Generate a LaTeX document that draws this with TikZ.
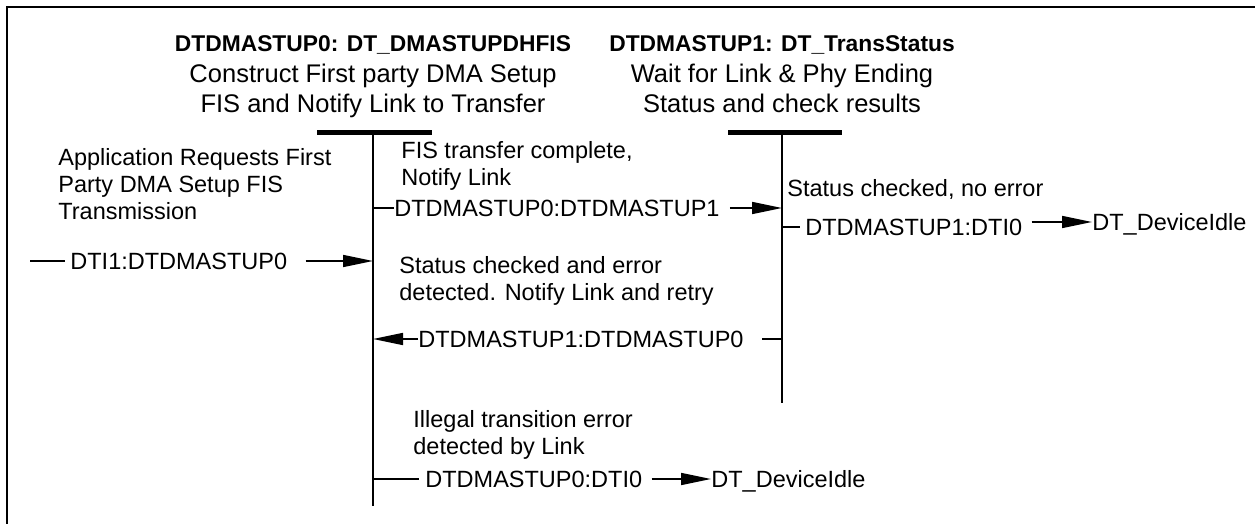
\documentclass[tikz,border=0pt]{standalone}
\usepackage{fontspec}
\setmainfont{Liberation Sans}
\usetikzlibrary{arrows.meta,positioning,calc}

\tikzset{
  stitle/.style={font=\fontsize{11.4}{15}\selectfont\bfseries, inner sep=0pt, anchor=base},
  sdesc/.style={font=\fontsize{12.75}{15}\selectfont, inner sep=0pt, align=center, anchor=base},
  note/.style={font=\fontsize{11.75}{13.5}\selectfont, inner sep=0pt, align=left, anchor=base west},
  tlabel/.style={font=\fontsize{11.75}{13.5}\selectfont, inner sep=0pt, text height=8.4pt, text depth=0pt, anchor=west},
  lifeline/.style={line width=1pt},
  statebar/.style={line width=2.5pt},
  trans/.style={line width=0.8pt, -{Triangle[length=15pt,width=6pt]}},
  tick/.style={line width=0.8pt},
}

\begin{document}
\begin{tikzpicture}[x=0.5pt,y=-0.5pt]
        \useasboundingbox (0,0) rectangle (1255,524);
        \draw[line width=1pt] (7,524) -- (7,7) -- (1255,7);
        % state DTDMASTUP0 (multi-line nodes sit on their last baseline)
        \node[stitle] (s0title) at (373,52) {DTDMASTUP0: DT\_DMASTUPDHFIS};
        \node[sdesc] (s0desc) at (373,113) {Construct First party DMA Setup\\FIS and Notify Link to Transfer};
        \coordinate (s0l) at (317,133); \coordinate (s0r) at (432,133);
        \coordinate (s0top) at (373,133); \coordinate (s0bot) at (373,506);
        \draw[statebar] (s0l) -- (s0r);
        \draw[lifeline] (s0top) -- (s0bot);
        % state DTDMASTUP1
        \node[stitle] (s1title) at (782,52) {DTDMASTUP1: DT\_TransStatus};
        \node[sdesc] (s1desc) at (782,113) {Wait for Link \& Phy Ending\\Status and check results};
        \coordinate (s1l) at (728,133); \coordinate (s1r) at (842,133);
        \coordinate (s1top) at (782,133); \coordinate (s1bot) at (782,403);
        \draw[statebar] (s1l) -- (s1r);
        \draw[lifeline] (s1top) -- (s1bot);
        % DTI1 -> DTDMASTUP0
        \node[note] (nA) at (58,220) {Application Requests First\\Party DMA Setup FIS\\Transmission};
        \coordinate (inA) at (30,261);
        \node[tlabel] (tA) at (70,261) {DTI1:DTDMASTUP0};
        \draw[tick] (inA) -- ([xshift=-2.5pt]tA.west);
        \draw[trans] ([xshift=9pt]tA.east) -- (tA.east -| s0top);
        % DTDMASTUP0 -> DTDMASTUP1
        \node[note] (nB) at (401,186) {FIS transfer complete,\\Notify Link};
        \node[tlabel] (tB) at (394,208) {DTDMASTUP0:DTDMASTUP1};
        \draw[tick] (tB.west -| s0top) -- (tB.west);
        \draw[trans] ([xshift=5pt]tB.east) -- (tB.east -| s1top);
        % DTDMASTUP1 -> DTI0
        \node[note] (nC) at (787,197) {Status checked, no error};
        \node[tlabel] (tC) at (805,227) {DTDMASTUP1:DTI0};
        \node[tlabel] (idleC) at (1092,222) {DT\_DeviceIdle};
        \draw[tick] (tC.west -| s1top) -- ([xshift=-2.5pt]tC.west);
        \draw[trans] ($(tC.east |- idleC.west)+(9,0)$) -- (idleC.west);
        % DTDMASTUP1 -> DTDMASTUP0
        \node[note] (nD) at (399,300) {Status checked and error\\detected. Notify Link and retry};
        \node[tlabel] (tD) at (418,339) {DTDMASTUP1:DTDMASTUP0};
        \coordinate (stubD) at (762,339);
        \draw[trans] (tD.west) -- (tD.west -| s0top);
        \draw[tick] (stubD) -- (stubD -| s1top);
        % DTDMASTUP0 -> DTI0
        \node[note] (nE) at (413,454) {Illegal transition error\\detected by Link};
        \node[tlabel] (tE) at (425,479) {DTDMASTUP0:DTI0};
        \node[tlabel] (idleE) at (711,479) {DT\_DeviceIdle};
        \draw[tick] (tE.west -| s0top) -- ([xshift=-3pt]tE.west);
        \draw[trans] ([xshift=4.5pt]tE.east) -- (idleE.west);
\end{tikzpicture}
\end{document}
